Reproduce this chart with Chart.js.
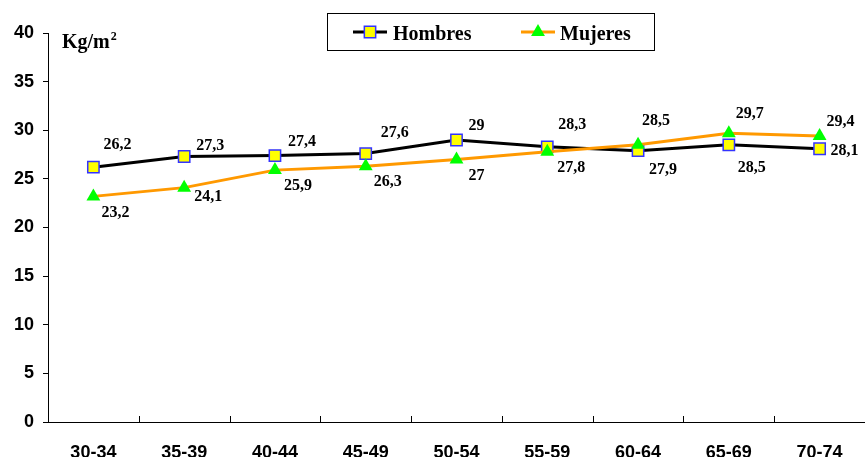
<!DOCTYPE html>
<html>
<head>
<meta charset="utf-8">
<script src="https://cdn.jsdelivr.net/npm/chart.js@4.4.1/dist/chart.umd.min.js"></script>
<style>
  html, body { margin: 0; padding: 0; background: #fff; }
  canvas { display: block; }
</style>
</head>
<body>
<canvas id="imc" width="865" height="457"></canvas>
<script>
// Índice de masa corporal medio por grupo de edad
const ageGroups = ['30-34', '35-39', '40-44', '45-49', '50-54', '55-59', '60-64', '65-69', '70-74'];
const hombres = [26.2, 27.3, 27.4, 27.6, 29, 28.3, 27.9, 28.5, 28.1];
const mujeres = [23.2, 24.1, 25.9, 26.3, 27, 27.8, 28.5, 29.7, 29.4];
const yTicks = [0, 5, 10, 15, 20, 25, 30, 35, 40];
const unitLabel = 'Kg/m';
const unitExponent = '2';

// where each value label sits relative to its marker (px)
const hombresLabelOffsets = [[24, -22], [26, -11], [27, -14], [29, -21], [20, -14], [25, -22], [25, 19], [23, 23], [25, 2]];
const mujeresLabelOffsets = [[22, 16], [24, 9], [23, 16], [22, 16], [20, 16], [24, 16], [18, -24], [21, -19], [21, -14]];

const SERIF = "'Liberation Serif', 'Times New Roman', serif";
const SANS = "'Liberation Sans', Arial, sans-serif";

const fmt = v => String(v).replace('.', ',');

const overlayPlugin = {
  id: 'overlay',
  afterDraw(chart) {
    const ctx = chart.ctx;
    const x = chart.scales.x;
    const area = chart.chartArea;

    // inward tick marks between categories on the horizontal axis
    ctx.save();
    ctx.strokeStyle = '#000';
    ctx.lineWidth = 1;
    ctx.beginPath();
    for (let i = 0; i < ageGroups.length - 1; i++) {
      const px = Math.round((x.getPixelForValue(i) + x.getPixelForValue(i + 1)) / 2) + 0.5;
      ctx.moveTo(px, area.bottom);
      ctx.lineTo(px, area.bottom - 6);
    }
    ctx.stroke();
    ctx.restore();

    // value labels
    const offsets = [hombresLabelOffsets, mujeresLabelOffsets];
    ctx.save();
    ctx.font = 'bold 16px ' + SERIF;
    ctx.fillStyle = '#000';
    ctx.textAlign = 'center';
    ctx.textBaseline = 'middle';
    chart.data.datasets.forEach((ds, di) => {
      const meta = chart.getDatasetMeta(di);
      meta.data.forEach((pt, i) => {
        const [dx, dy] = offsets[di][i];
        ctx.fillText(fmt(ds.data[i]), pt.x + dx, pt.y + dy);
      });
    });
    ctx.restore();

    // unit label
    ctx.save();
    ctx.fillStyle = '#000';
    ctx.textBaseline = 'alphabetic';
    ctx.textAlign = 'left';
    ctx.font = 'bold 20px ' + SERIF;
    ctx.fillText(unitLabel, 62, 48);
    const w = ctx.measureText(unitLabel).width;
    ctx.font = 'bold 12px ' + SERIF;
    ctx.fillText(unitExponent, 62 + w + 1, 40);
    ctx.restore();

    // legend box
    ctx.save();
    ctx.strokeStyle = '#000';
    ctx.lineWidth = 1;
    ctx.strokeRect(327.5, 13.5, 327, 37);
    const items = [
      { ds: chart.data.datasets[0], x0: 353, x1: 387, tx: 393 },
      { ds: chart.data.datasets[1], x0: 521, x1: 555, tx: 560 }
    ];
    items.forEach(it => {
      ctx.strokeStyle = it.ds.borderColor;
      ctx.lineWidth = 3;
      ctx.beginPath();
      ctx.moveTo(it.x0, 32);
      ctx.lineTo(it.x1, 32);
      ctx.stroke();
      ctx.fillStyle = it.ds.pointBackgroundColor;
      ctx.strokeStyle = it.ds.pointBorderColor;
      ctx.lineWidth = it.ds.pointBorderWidth;
      Chart.helpers.drawPoint(ctx, {
        pointStyle: it.ds.pointStyle,
        radius: it.ds.pointRadius,
        borderWidth: it.ds.pointBorderWidth,
        rotation: 0
      }, (it.x0 + it.x1) / 2, 32);
      ctx.fillStyle = '#000';
      ctx.font = 'bold 20px ' + SERIF;
      ctx.textBaseline = 'alphabetic';
      ctx.textAlign = 'left';
      ctx.fillText(it.ds.label, it.tx, 40);
    });
    ctx.restore();
  }
};

new Chart(document.getElementById('imc'), {
  type: 'line',
  data: {
    labels: ageGroups,
    datasets: [
      {
        label: 'Hombres',
        data: hombres,
        borderColor: '#000000',
        borderWidth: 3,
        pointStyle: 'rect',
        pointRadius: 8,
        pointHoverRadius: 8,
        pointBackgroundColor: '#ffff00',
        pointBorderColor: '#3333ff',
        pointBorderWidth: 1.5,
        tension: 0,
        order: 1,
        clip: false
      },
      {
        label: 'Mujeres',
        data: mujeres,
        borderColor: '#ff9900',
        borderWidth: 3,
        pointStyle: 'triangle',
        pointRadius: 8,
        pointHoverRadius: 8,
        pointBackgroundColor: '#00ff00',
        pointBorderColor: '#00ff00',
        pointBorderWidth: 0,
        tension: 0,
        order: 0,
        clip: false
      }
    ]
  },
  options: {
    responsive: false,
    animation: false,
    devicePixelRatio: 1,
    layout: { autoPadding: false, padding: { top: 33, right: 0, left: 0, bottom: 0 } },
    plugins: {
      legend: { display: false },
      tooltip: { enabled: false }
    },
    scales: {
      x: {
        type: 'category',
        offset: true,
        grid: { display: false, drawTicks: false, tickLength: 0 },
        border: { display: true, color: '#000', width: 1 },
        ticks: {
          color: '#000',
          font: { family: SANS, size: 18, weight: 'bold' },
          padding: 20,
          maxRotation: 0,
          autoSkip: false
        },
        afterFit: s => { s.height = 35; s.paddingLeft = 0; s.paddingRight = 0; }
      },
      y: {
        min: 0,
        max: 40,
        grid: { display: true, drawOnChartArea: false, drawTicks: true, tickLength: 5, color: '#000' },
        border: { display: true, color: '#000', width: 1 },
        ticks: {
          color: '#000',
          font: { family: SANS, size: 18, weight: 'bold' },
          padding: 9
        },
        afterBuildTicks: s => { s.ticks = yTicks.map(v => ({ value: v })); },
        afterFit: s => { s.width = 48; }
      }
    }
  },
  plugins: [overlayPlugin]
});
</script>
</body>
</html>
